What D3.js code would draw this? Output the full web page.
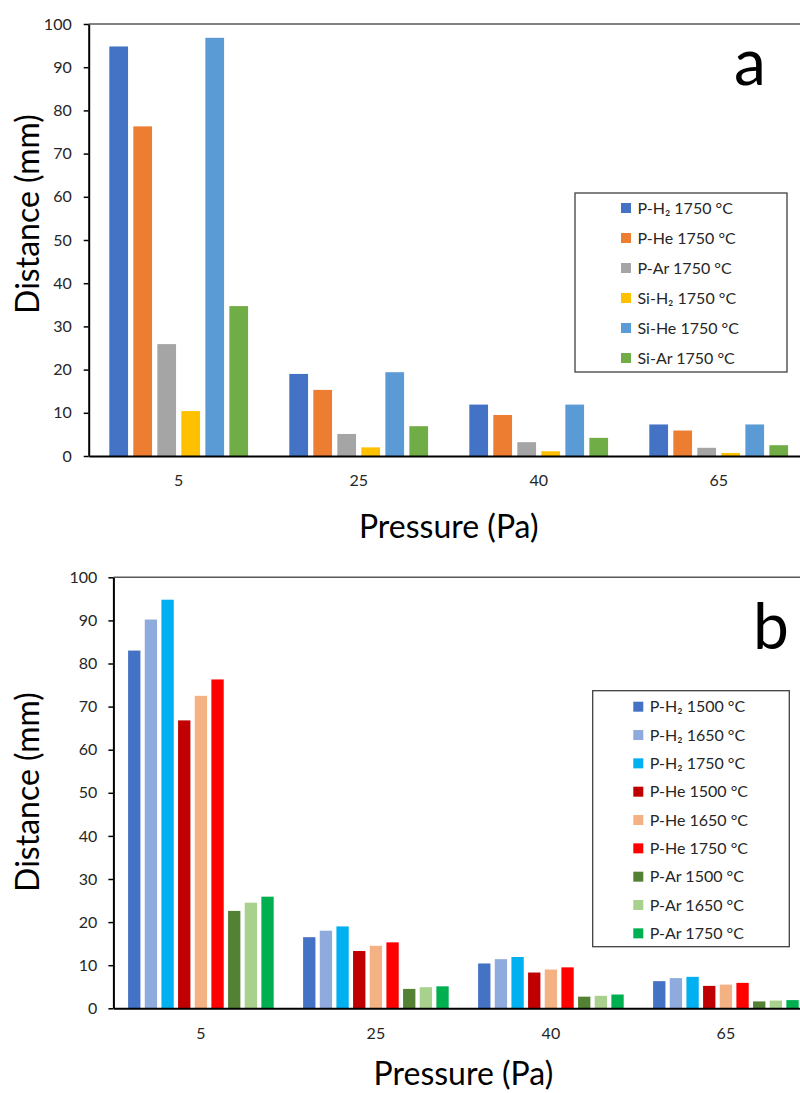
<!DOCTYPE html>
<html>
<head>
<meta charset="utf-8">
<script src="https://cdn.jsdelivr.net/npm/d3@7"></script>
<style>
  html, body { margin: 0; padding: 0; background: #fff; }
  svg { display: block; }
  text { font-family: Lato, "Open Sans", sans-serif; }
</style>
</head>
<body>
<svg id="fig" width="800" height="1093"></svg>
<script>
// Pressure categories (Pa) shared by both panels
const categories = ["5", "25", "40", "65"];
const yTicks = [0, 10, 20, 30, 40, 50, 60, 70, 80, 90, 100];

// Travel distance (mm) per series, one value per pressure
const pH2_1500 = [83.0, 16.5, 10.4, 6.3];
const pH2_1650 = [90.2, 18.0, 11.4, 7.0];
const pH2_1750 = [94.8, 19.0, 11.9, 7.3];
const pHe_1500 = [66.8, 13.3, 8.3, 5.2];
const pHe_1650 = [72.5, 14.5, 9.0, 5.5];
const pHe_1750 = [76.3, 15.3, 9.5, 5.9];
const pAr_1500 = [22.6, 4.5, 2.7, 1.6];
const pAr_1650 = [24.5, 4.9, 2.9, 1.8];
const pAr_1750 = [25.9, 5.1, 3.2, 1.9];
const siH2_1750 = [10.4, 2.0, 1.1, 0.7];
const siHe_1750 = [96.8, 19.4, 11.9, 7.3];
const siAr_1750 = [34.7, 6.9, 4.2, 2.5];

// Panel a: P and Si species at 1750 °C
const seriesA = [
  { name: "P-H₂ 1750 °C",  color: "#4472C4", values: pH2_1750 },
  { name: "P-He 1750 °C",  color: "#ED7D31", values: pHe_1750 },
  { name: "P-Ar 1750 °C",  color: "#A5A5A5", values: pAr_1750 },
  { name: "Si-H₂ 1750 °C", color: "#FFC000", values: siH2_1750 },
  { name: "Si-He 1750 °C", color: "#5B9BD5", values: siHe_1750 },
  { name: "Si-Ar 1750 °C", color: "#70AD47", values: siAr_1750 }
];

// Panel b: P species at three temperatures
const seriesB = [
  { name: "P-H₂ 1500 °C", color: "#4472C4", values: pH2_1500 },
  { name: "P-H₂ 1650 °C", color: "#8FAADC", values: pH2_1650 },
  { name: "P-H₂ 1750 °C", color: "#00B0F0", values: pH2_1750 },
  { name: "P-He 1500 °C", color: "#C00000", values: pHe_1500 },
  { name: "P-He 1650 °C", color: "#F4B183", values: pHe_1650 },
  { name: "P-He 1750 °C", color: "#FF0000", values: pHe_1750 },
  { name: "P-Ar 1500 °C", color: "#548235", values: pAr_1500 },
  { name: "P-Ar 1650 °C", color: "#A9D18E", values: pAr_1650 },
  { name: "P-Ar 1750 °C", color: "#00B050", values: pAr_1750 }
];

const svg = d3.select("#fig");
svg.append("rect").attr("width", 800).attr("height", 1093).attr("fill", "#fff");

function drawPanel(opt) {
  const g = svg.append("g");
  const { left, right, top, bottom, series } = opt;

  const x0 = d3.scaleBand()
    .domain(categories)
    .range([left, right])
    .paddingInner(opt.groupGap)
    .paddingOuter(opt.groupGap / 2);

  const x1 = d3.scaleBand()
    .domain(d3.range(series.length))
    .range([0, x0.bandwidth()])
    .paddingInner(opt.barGap)
    .paddingOuter(0);

  const y = d3.scaleLinear().domain([0, 100]).range([bottom, top]);

  // plot-area top border
  g.append("line")
    .attr("x1", left).attr("x2", right)
    .attr("y1", top).attr("y2", top)
    .attr("stroke", "#595959").attr("stroke-width", 1.5);

  // bars
  const groups = g.selectAll("g.grp")
    .data(categories)
    .join("g")
    .attr("class", "grp")
    .attr("transform", d => `translate(${x0(d)},0)`);

  groups.selectAll("rect")
    .data((c, ci) => series.map((s, si) => ({ si, v: s.values[ci], color: s.color })))
    .join("rect")
    .attr("x", d => x1(d.si))
    .attr("width", x1.bandwidth())
    .attr("y", d => y(d.v))
    .attr("height", d => y(0) - y(d.v))
    .attr("fill", d => d.color);

  // y axis
  const yAxis = g.append("g")
    .attr("transform", `translate(${left},0)`)
    .call(d3.axisLeft(y).tickValues(yTicks).tickSize(5).tickPadding(opt.tickPad).tickSizeOuter(0));
  yAxis.select(".domain").attr("stroke", "#000").attr("stroke-width", 2);
  yAxis.selectAll(".tick line").attr("stroke", "#000").attr("stroke-width", 1.5);
  yAxis.selectAll(".tick text")
    .attr("font-size", 16).attr("fill", "#262626")
    .style("font-family", "Lato, sans-serif");

  // x axis
  const xAxis = g.append("g")
    .attr("transform", `translate(0,${bottom})`)
    .call(d3.axisBottom(x0).tickSize(0).tickPadding(19).tickSizeOuter(0));
  xAxis.select(".domain").attr("stroke", "#000").attr("stroke-width", 2);
  xAxis.selectAll(".tick text")
    .attr("font-size", 16).attr("fill", "#262626")
    .style("font-family", "Lato, sans-serif");

  // axis titles
  g.append("text")
    .attr("x", (left + right) / 2)
    .attr("y", bottom + opt.xTitleOffset)
    .attr("text-anchor", "middle")
    .attr("font-size", 32)
    .attr("fill", "#000")
    .text("Pressure (Pa)");

  g.append("text")
    .attr("transform", `translate(${opt.yTitleX},${opt.yTitleY}) rotate(-90)`)
    .attr("text-anchor", "middle")
    .attr("font-size", 32)
    .attr("fill", "#000")
    .text("Distance (mm)");

  // panel letter
  g.append("text")
    .attr("x", opt.letterX).attr("y", opt.letterY)
    .attr("text-anchor", "middle")
    .attr("font-size", 64)
    .attr("fill", "#000")
    .text(opt.letter);

  // legend
  const L = opt.legend;
  const lg = g.append("g");
  lg.append("rect")
    .attr("x", L.x).attr("y", L.y)
    .attr("width", L.w).attr("height", L.h)
    .attr("fill", "#fff")
    .attr("stroke", "#404040").attr("stroke-width", 1.3);
  const items = lg.selectAll("g.item")
    .data(series)
    .join("g")
    .attr("class", "item")
    .attr("transform", (d, i) => `translate(0,${L.firstRow + i * L.rowStep})`);
  items.append("rect")
    .attr("x", L.swatchX).attr("y", -5)
    .attr("width", 10).attr("height", 10)
    .attr("fill", d => d.color);
  items.append("text")
    .attr("x", L.swatchX + 16.5)
    .attr("y", 0)
    .attr("dy", "0.35em")
    .attr("font-size", 16)
    .attr("fill", "#262626")
    .text(d => d.name);
}

drawPanel({
  series: seriesA,
  left: 88.7, right: 808.7, top: 24, bottom: 456,
  groupGap: 0.229, barGap: 0.22, tickPad: 12,
  xTitleOffset: 82,
  yTitleX: 39, yTitleY: 214,
  letter: "a", letterX: 750, letterY: 85,
  legend: { x: 575, y: 193, w: 212, h: 179, firstRow: 208, rowStep: 30, swatchX: 621 }
});

drawPanel({
  series: seriesB,
  left: 113.4, right: 813.4, top: 577.3, bottom: 1008.3,
  groupGap: 0.168, barGap: 0.26, tickPad: 11,
  xTitleOffset: 77,
  yTitleX: 39, yTitleY: 792,
  letter: "b", letterX: 771, letterY: 649,
  legend: { x: 592.7, y: 690.7, w: 196.6, h: 256, firstRow: 706.7, rowStep: 28.33, swatchX: 633.3 }
});
</script>
</body>
</html>
